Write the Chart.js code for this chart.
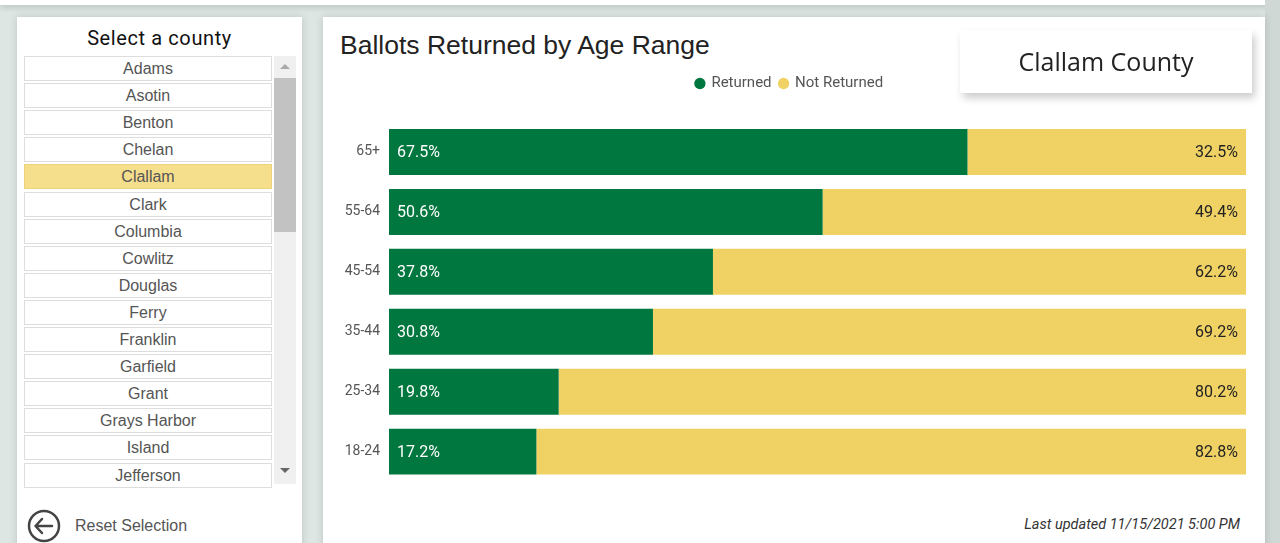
<!DOCTYPE html>
<html>
<head>
<meta charset="utf-8">
<script src="https://cdn.jsdelivr.net/npm/chart.js@4"></script>
<style>
  body { margin:0; width:1280px; height:543px; overflow:hidden; background:#dde6e2; position:relative; font-family:"Liberation Sans", Arial, sans-serif; }
  .topstrip { position:absolute; left:0; top:0; width:1270px; height:5px; background:#fff; box-shadow:0 2px 6px rgba(0,0,0,0.18); }
  .panel { position:absolute; background:#fff; box-shadow:0 0 8px rgba(0,0,0,0.15); }
  #left { left:17px; top:17px; width:285px; height:540px; }
  #right { left:323px; top:17px; width:942px; height:540px; }
  .rstrip { position:absolute; left:1265px; top:0; width:15px; height:543px; background:#cfd8d4; }
  #leftTitle { position:absolute; left:0; width:285px; top:9px; text-align:center; font-family:Roboto, sans-serif; font-size:20px; color:#111; letter-spacing:0.6px; }
  #list { position:absolute; left:7px; top:39px; width:250px; }
  .item { position:absolute; left:0; width:246px; height:23px; border:1px solid #ddd; text-align:center; font-size:16px; line-height:23px; color:#555; }
  .item.sel { background:#f5de8c; border-color:#eed27a; }
  #scroll { position:absolute; left:257px; top:39px; width:22px; height:428px; background:#f0f0f0; }
  #thumb { position:absolute; left:0; top:22px; width:22px; height:154px; background:#c2c2c2; }
  .arrow { position:absolute; left:6px; width:0; height:0; border-left:5px solid transparent; border-right:5px solid transparent; }
  #up { top:8px; border-bottom:5px solid #aaa; }
  #down { top:412px; border-top:5px solid #666; }
  #reset { position:absolute; left:10px; top:492px; font-size:16px; color:#555; }
  #reset svg { position:absolute; left:0; top:0; }
  #reset span { position:absolute; left:48px; top:8px; white-space:nowrap; }
  #title { position:absolute; left:17px; top:13px; font-size:26.5px; color:#222; white-space:nowrap; }
  #countyBox { position:absolute; left:637px; top:13px; width:292px; height:63px; background:#fff; box-shadow:3px 5px 8px rgba(0,0,0,0.2); text-align:center; line-height:63px; font-family:"Open Sans", sans-serif; font-size:25px; color:#222; }
  #updated { position:absolute; right:25px; top:499px; font-family:Roboto, sans-serif; font-style:italic; font-size:14.5px; color:#333; }
  #chartWrap { position:absolute; left:10px; top:51px; width:927px; height:431px; }
</style>
</head>
<body>
<div class="topstrip"></div>
<div class="rstrip"></div>
<div class="panel" id="left">
  <div id="leftTitle">Select a county</div>
  <div id="list"></div>
  <div id="scroll"><div id="thumb"></div><div class="arrow" id="up"></div><div class="arrow" id="down"></div></div>
  <div id="reset">
    <svg width="34" height="34" viewBox="0 0 34 34">
      <circle cx="17" cy="17" r="15" fill="none" stroke="#444" stroke-width="2.5"/>
      <path d="M25 17 H9 M15 10 L8.5 17 L15 24" fill="none" stroke="#444" stroke-width="2.5" stroke-linecap="round" stroke-linejoin="round"/>
    </svg>
    <span>Reset Selection</span>
  </div>
</div>
<div class="panel" id="right">
  <div id="title">Ballots Returned by Age Range</div>
  <div id="chartWrap"><canvas id="c"></canvas></div>
  <div id="countyBox"></div>
  <div id="updated">Last updated 11/15/2021 5:00 PM</div>
</div>
<script>
// data
let ageRanges = ['65+', '55-64', '45-54', '35-44', '25-34', '18-24'];
let returned = [67.5, 50.6, 37.8, 30.8, 19.8, 17.2];
let notReturned = [32.5, 49.4, 62.2, 69.2, 80.2, 82.8];
let counties = ['Adams', 'Asotin', 'Benton', 'Chelan', 'Clallam', 'Clark', 'Columbia', 'Cowlitz',
    'Douglas', 'Ferry', 'Franklin', 'Garfield', 'Grant', 'Grays Harbor', 'Island', 'Jefferson'];
let selectedCounty = 'Clallam';

let list = document.getElementById('list');
counties.forEach(function (name, i) {
    let d = document.createElement('div');
    d.className = 'item' + (name === selectedCounty ? ' sel' : '');
    d.style.top = (i * 27.1) + 'px';
    d.innerText = name;
    list.appendChild(d);
});
document.getElementById('countyBox').innerText = selectedCounty + ' County';

let green = '#00773f';
let yellow = '#f0d264';

// draws the percent labels inside the bars
let barLabels = {
    id: 'barLabels',
    afterDatasetsDraw(chart) {
        let ctx = chart.ctx;
        ctx.save();
        ctx.font = '16px Roboto';
        ctx.textBaseline = 'middle';
        chart.data.datasets.forEach(function (ds, di) {
            let meta = chart.getDatasetMeta(di);
            meta.data.forEach(function (bar, i) {
                let txt = ds.data[i].toFixed(1) + '%';
                if (di === 0) {
                    ctx.fillStyle = '#fff';
                    ctx.textAlign = 'left';
                    ctx.fillText(txt, bar.base + 8, bar.y + 1);
                } else {
                    ctx.fillStyle = '#222';
                    ctx.textAlign = 'right';
                    ctx.fillText(txt, bar.x - 8, bar.y + 1);
                }
            });
        });
        ctx.restore();
    }
};

// extra room under the legend
let legendGap = {
    id: 'legendGap',
    beforeInit(chart) {
        let fit = chart.legend.fit;
        chart.legend.fit = function () {
            fit.bind(chart.legend)();
            this.height += 21;
        };
    }
};

let chart = new Chart(document.getElementById('c'), {
    type: 'bar',
    data: {
        labels: ageRanges,
        datasets: [{
            label: 'Returned',
            data: returned,
            backgroundColor: green
        },
        {
            label: 'Not Returned',
            data: notReturned,
            backgroundColor: yellow
        }]
    },
    options: {
        indexAxis: 'y',
        responsive: true,
        maintainAspectRatio: false,
        animation: false,
        categoryPercentage: 1,
        barPercentage: 0.767,
        layout: { padding: { top: 0, right: 14, bottom: 0, left: 0 } },
        scales: {
            x: { stacked: true, min: 0, max: 100, display: false },
            y: {
                stacked: true,
                grid: { display: false, drawTicks: false },
                border: { display: false },
                afterFit: function (scale) { scale.width = 56; },
                ticks: { color: '#555', font: { family: 'Roboto', size: 14 }, padding: 9 }
            }
        },
        plugins: {
            legend: {
                position: 'top',
                labels: {
                    usePointStyle: true,
                    pointStyle: 'circle',
                    boxWidth: 8,
                    boxHeight: 8,
                    padding: 8,
                    color: '#555',
                    font: { family: 'Roboto', size: 15 }
                }
            },
            tooltip: { enabled: false }
        }
    },
    plugins: [barLabels, legendGap]
});
</script>
</body>
</html>
